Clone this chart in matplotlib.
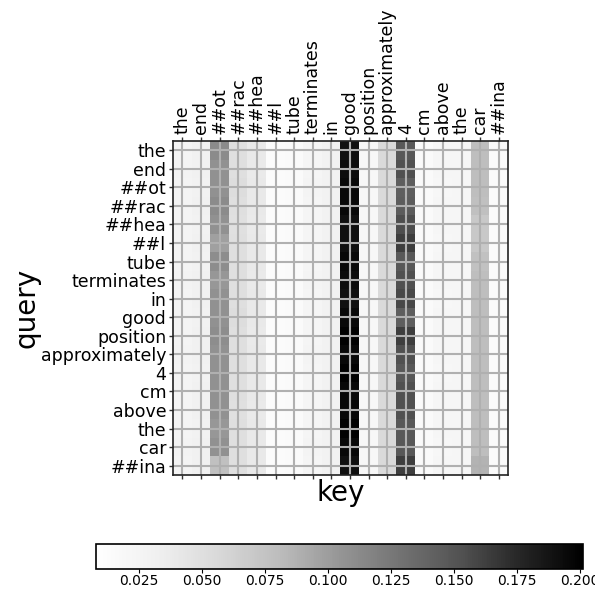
import numpy as np
import matplotlib
matplotlib.use("Agg")
import matplotlib.pyplot as plt

tokens = ["the", "end", "##ot", "##rac", "##hea", "##l", "tube", "terminates",
          "in", "good", "position", "approximately", "4", "cm", "above",
          "the", "car", "##ina"]

# attention weights, rows = query, cols = key
attn = [
    [0.026, 0.030, 0.112, 0.050, 0.039, 0.014, 0.015, 0.024, 0.029, 0.190, 0.021, 0.055, 0.148, 0.016, 0.022, 0.023, 0.079, 0.015],
    [0.027, 0.030, 0.108, 0.050, 0.038, 0.014, 0.015, 0.024, 0.028, 0.192, 0.021, 0.054, 0.153, 0.016, 0.022, 0.023, 0.079, 0.015],
    [0.026, 0.029, 0.108, 0.051, 0.039, 0.014, 0.015, 0.025, 0.029, 0.195, 0.021, 0.055, 0.143, 0.016, 0.021, 0.023, 0.079, 0.015],
    [0.026, 0.030, 0.112, 0.050, 0.039, 0.014, 0.015, 0.024, 0.029, 0.195, 0.021, 0.054, 0.145, 0.016, 0.022, 0.023, 0.078, 0.015],
    [0.025, 0.029, 0.108, 0.049, 0.038, 0.014, 0.015, 0.024, 0.028, 0.190, 0.021, 0.055, 0.155, 0.016, 0.022, 0.023, 0.071, 0.015],
    [0.026, 0.030, 0.098, 0.050, 0.039, 0.014, 0.015, 0.024, 0.029, 0.190, 0.021, 0.055, 0.163, 0.016, 0.021, 0.023, 0.071, 0.015],
    [0.026, 0.029, 0.110, 0.050, 0.039, 0.014, 0.015, 0.024, 0.029, 0.195, 0.021, 0.054, 0.148, 0.016, 0.022, 0.023, 0.076, 0.015],
    [0.027, 0.030, 0.103, 0.050, 0.038, 0.014, 0.015, 0.025, 0.028, 0.192, 0.021, 0.055, 0.153, 0.016, 0.022, 0.023, 0.079, 0.015],
    [0.026, 0.030, 0.108, 0.050, 0.039, 0.014, 0.015, 0.024, 0.029, 0.190, 0.021, 0.055, 0.158, 0.016, 0.021, 0.023, 0.079, 0.015],
    [0.026, 0.029, 0.108, 0.051, 0.039, 0.014, 0.015, 0.024, 0.029, 0.195, 0.021, 0.054, 0.143, 0.016, 0.022, 0.023, 0.079, 0.015],
    [0.026, 0.030, 0.110, 0.050, 0.038, 0.014, 0.015, 0.024, 0.028, 0.200, 0.021, 0.055, 0.163, 0.016, 0.022, 0.023, 0.079, 0.015],
    [0.027, 0.030, 0.108, 0.050, 0.039, 0.014, 0.015, 0.025, 0.029, 0.195, 0.021, 0.055, 0.153, 0.016, 0.022, 0.023, 0.079, 0.015],
    [0.026, 0.029, 0.108, 0.050, 0.039, 0.014, 0.015, 0.024, 0.029, 0.200, 0.021, 0.054, 0.148, 0.016, 0.021, 0.023, 0.079, 0.015],
    [0.026, 0.030, 0.108, 0.050, 0.039, 0.014, 0.015, 0.024, 0.029, 0.195, 0.021, 0.055, 0.153, 0.016, 0.022, 0.023, 0.079, 0.015],
    [0.026, 0.030, 0.108, 0.049, 0.038, 0.014, 0.015, 0.024, 0.028, 0.195, 0.021, 0.055, 0.153, 0.016, 0.022, 0.023, 0.079, 0.015],
    [0.026, 0.029, 0.103, 0.050, 0.039, 0.014, 0.015, 0.024, 0.029, 0.200, 0.021, 0.054, 0.148, 0.016, 0.022, 0.023, 0.079, 0.015],
    [0.027, 0.030, 0.108, 0.050, 0.039, 0.014, 0.015, 0.025, 0.029, 0.195, 0.021, 0.055, 0.148, 0.016, 0.021, 0.023, 0.079, 0.015],
    [0.026, 0.030, 0.078, 0.050, 0.039, 0.014, 0.015, 0.024, 0.029, 0.190, 0.021, 0.055, 0.163, 0.016, 0.022, 0.023, 0.086, 0.015],
]

cbar_ticks = [0.025, 0.050, 0.075, 0.100, 0.125, 0.150, 0.175, 0.200]
vmin, vmax = 0.008, 0.201

fig = plt.figure(figsize=(5.95, 5.9), dpi=100)
ax = fig.add_axes([0.291, 0.195, 0.563, 0.566])
cax = fig.add_axes([0.161, 0.036, 0.818, 0.042])

im = ax.imshow(np.array(attn), cmap="Greys", vmin=vmin, vmax=vmax, aspect="auto")

n = len(tokens)
ax.set_xticks(range(n))
ax.set_yticks(range(n))
ax.set_xticklabels(tokens, rotation=90, fontsize=12.5)
ax.set_yticklabels(tokens, fontsize=12.5)
ax.tick_params(top=True, labeltop=True, bottom=True, labelbottom=False,
               length=3, width=1, color="#333333", pad=2)
ax.grid(True, color="#b0b0b0", linewidth=1.5)
for s in ax.spines.values():
    s.set_linewidth(1.2)
    s.set_color("#222222")

ax.set_xlabel("key", fontsize=20, labelpad=0)
ax.set_ylabel("query", fontsize=20, labelpad=0)

cb = fig.colorbar(im, cax=cax, orientation="horizontal", ticks=cbar_ticks)
cb.ax.tick_params(labelsize=10, length=3, pad=1)
cb.outline.set_linewidth(1.2)

fig.savefig("out.png", dpi=100)
